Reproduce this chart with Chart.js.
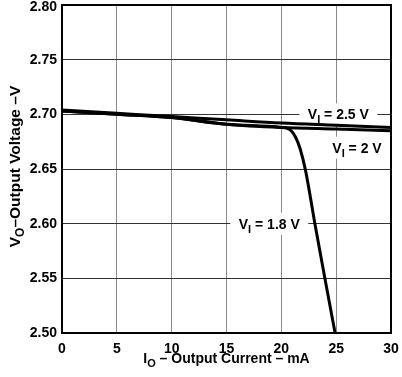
<!DOCTYPE html>
<html>
<head>
<meta charset="utf-8">
<script src="https://cdn.jsdelivr.net/npm/chart.js@4"></script>
<style>
  html, body { margin: 0; padding: 0; background: #fff; }
  #wrap { width: 402px; height: 377px; }
</style>
</head>
<body>
<div id="wrap"><canvas id="graph"></canvas></div>
<script>
// curves: output current (mA) vs output voltage (V)
const currentHigh = [0, 5, 10, 15, 20, 25, 30];
const voltsHigh = [2.704, 2.701, 2.698, 2.695, 2.692, 2.690, 2.688];   // VI = 2.5 V

const currentMid = [0, 5, 10, 15, 20, 25, 30];
const voltsMid = [2.703, 2.700, 2.697, 2.691, 2.688, 2.6865, 2.685];   // VI = 2 V

const currentLow = [0, 5, 10, 15, 20, 20.6, 20.9, 21.3, 21.7, 22.2, 23.06, 23.97, 24.9];
const voltsLow = [2.703, 2.700, 2.697, 2.691, 2.688, 2.687, 2.685, 2.679, 2.669, 2.649, 2.600, 2.550, 2.500]; // VI = 1.8 V

const xTicks = [0, 5, 10, 15, 20, 25, 30];
const yTicks = [2.50, 2.55, 2.60, 2.65, 2.70, 2.75, 2.80];

// curve labels: [main, subscript, rest, x (mA), y (V)]
const curveLabels = [
  ['V', 'I', ' = 2.5 V', 25.2, 2.700],
  ['V', 'I', ' = 2 V', 26.9, 2.6695],
  ['V', 'I', ' = 1.8 V', 18.9, 2.600]
];

const FONT = '"Liberation Sans", Arial, sans-serif';

const toPoints = (xs, ys) => xs.map((x, i) => ({x: x, y: ys[i]}));

// text with a subscript, drawn centred on x
function drawRich(ctx, main, sub, rest, x, y, size) {
  const big = `bold ${size}px ${FONT}`;
  const small = `bold ${Math.round(size * 0.75)}px ${FONT}`;
  ctx.font = big;
  const w1 = ctx.measureText(main).width;
  const w3 = ctx.measureText(rest).width;
  ctx.font = small;
  const w2 = ctx.measureText(sub).width;
  const total = w1 + w2 + w3;
  let cx = x - total / 2;
  ctx.textAlign = 'left';
  ctx.textBaseline = 'alphabetic';
  ctx.fillStyle = '#000';
  ctx.font = big;
  ctx.fillText(main, cx, y);
  cx += w1;
  ctx.font = small;
  ctx.fillText(sub, cx, y + 4);
  cx += w2;
  ctx.font = big;
  ctx.fillText(rest, cx, y);
  return total;
}

const extras = {
  id: 'extras',
  beforeDatasetsDraw(chart) {
    const {ctx, scales} = chart;
    ctx.save();
    curveLabels.forEach(([m, s, r, xv, yv]) => {
      const px = scales.x.getPixelForValue(xv);
      const py = scales.y.getPixelForValue(yv);
      ctx.font = `bold 14px ${FONT}`;
      const w = ctx.measureText(m + r).width + 8;
      ctx.fillStyle = '#fff';
      ctx.fillRect(px - w / 2 - 6, py - 11, w + 12, 22);
      drawRich(ctx, m, s, r, px, py + 5, 14);
    });
    ctx.restore();
  },
  afterDraw(chart) {
    const {ctx, chartArea: a} = chart;
    ctx.save();
    ctx.strokeStyle = '#000';
    ctx.lineWidth = 2;
    ctx.strokeRect(a.left, a.top, a.right - a.left, a.bottom - a.top);
    // axis titles
    drawRich(ctx, 'I', 'O', ' \u2013 Output Current \u2013 mA', (a.left + a.right) / 2, 363, 14);
    ctx.translate(20, 166.5);
    ctx.rotate(-Math.PI / 2);
    drawRich(ctx, 'V', 'O', '\u2013Output Voltage \u2013V', 0, 0, 15.5);
    ctx.restore();
  }
};

const lineStyle = {
  borderColor: '#000',
  borderWidth: 3,
  pointRadius: 0,
  fill: false,
  cubicInterpolationMode: 'monotone'
};

new Chart(document.getElementById('graph'), {
  type: 'line',
  data: {
    datasets: [
      {label: 'VI = 2.5 V', data: toPoints(currentHigh, voltsHigh), ...lineStyle},
      {label: 'VI = 2 V', data: toPoints(currentMid, voltsMid), ...lineStyle},
      {label: 'VI = 1.8 V', data: toPoints(currentLow, voltsLow), ...lineStyle}
    ]
  },
  options: {
    responsive: true,
    maintainAspectRatio: false,
    animation: false,
    layout: {padding: {left: 0, top: 5, right: 11, bottom: 0}},
    plugins: {legend: {display: false}, tooltip: {enabled: false}},
    scales: {
      x: {
        type: 'linear',
        min: 0,
        max: 30,
        afterFit: s => { s.height = 44; s.paddingLeft = 0; s.paddingRight = 0; },
        afterBuildTicks: s => { s.ticks = xTicks.map(v => ({value: v})); },
        grid: {color: '#8a8a8a', lineWidth: 1, drawTicks: false},
        border: {display: false},
        ticks: {
          color: '#000',
          padding: 8,
          maxRotation: 0,
          font: {family: FONT, size: 14, weight: 'bold'}
        }
      },
      y: {
        min: 2.5,
        max: 2.8,
        afterFit: s => { s.width = 62; s.paddingTop = 0; s.paddingBottom = 0; },
        afterBuildTicks: s => { s.ticks = yTicks.map(v => ({value: v})); },
        grid: {color: '#333', lineWidth: 1, drawTicks: false},
        border: {display: false},
        ticks: {
          color: '#000',
          padding: 5,
          // top label sits a little below its line so it is not cut off
          callback: v => v === 2.8 ? ['', v.toFixed(2)] : v.toFixed(2),
          font: c => ({
            family: FONT, size: 14, weight: 'bold',
            lineHeight: c.tick && c.tick.value === 2.8 ? '5px' : 1.2
          })
        }
      }
    }
  },
  plugins: [extras]
});
</script>
</body>
</html>
